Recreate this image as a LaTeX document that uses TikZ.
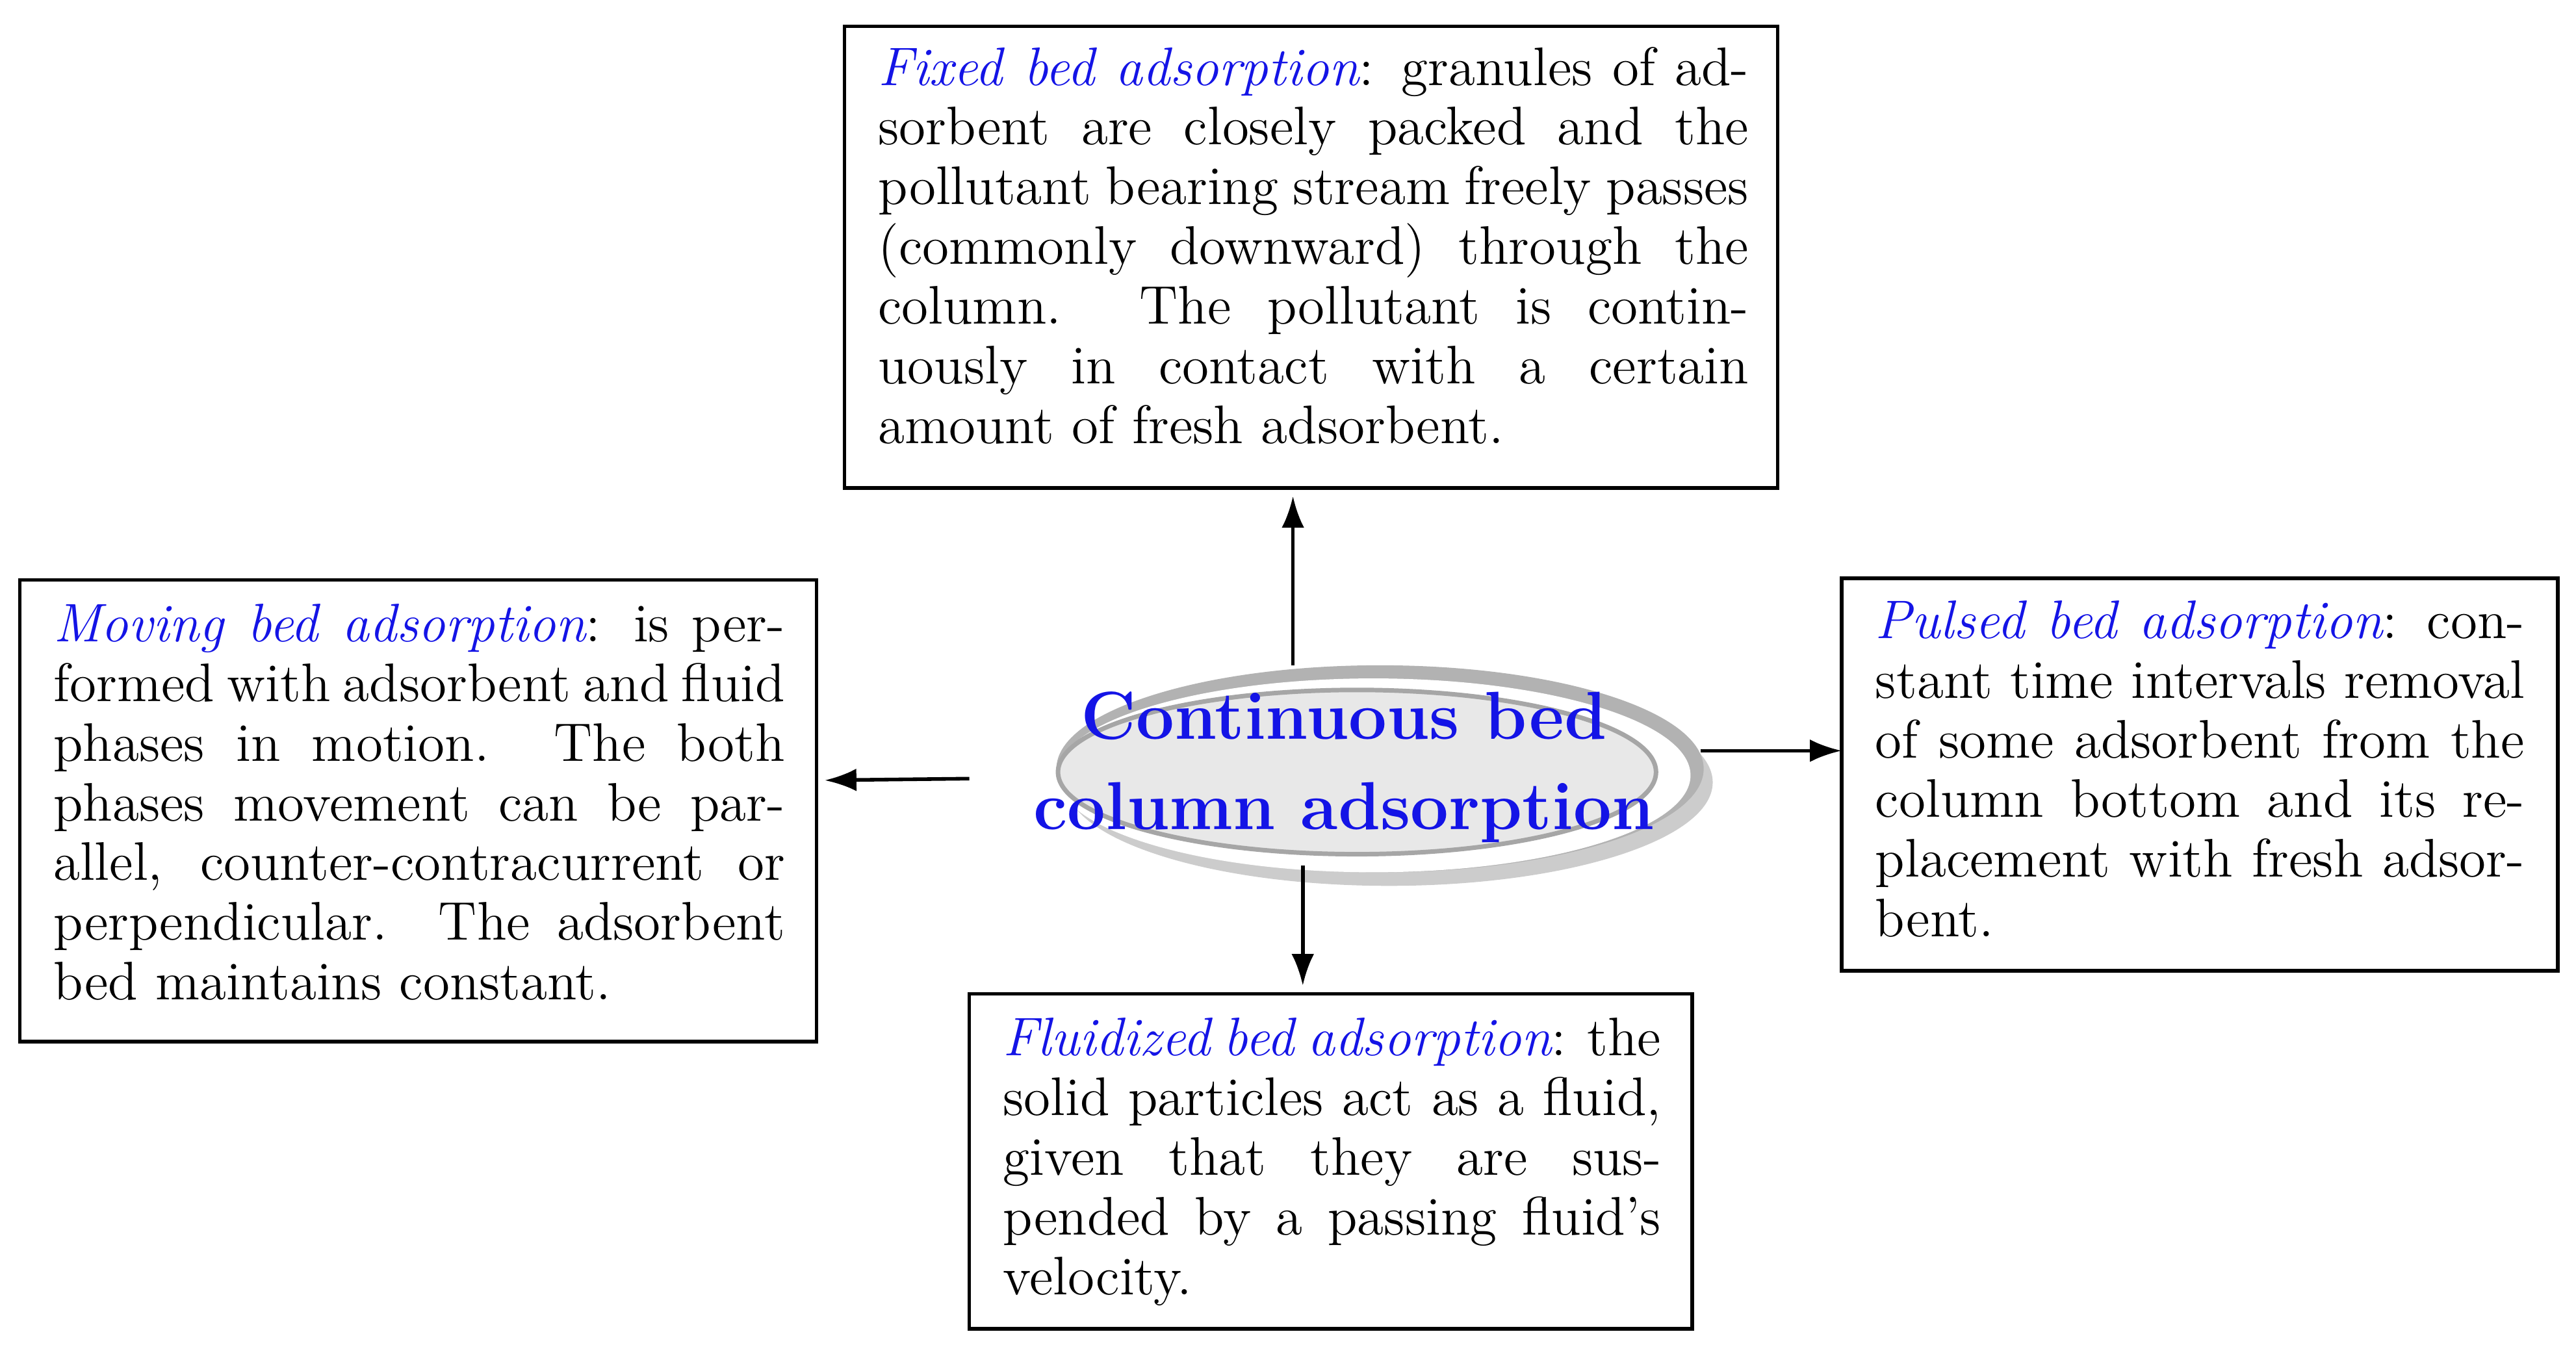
\documentclass[tikz,border=0pt]{standalone}
\usetikzlibrary{arrows.meta,shadows}
\definecolor{lblue}{RGB}{20,20,230}
\newcommand{\bedname}[1]{\textcolor{lblue}{\itshape #1}}
\begin{document}
\begin{tikzpicture}[x=0.012755cm, y=-0.012755cm]
    \tikzset{
      box/.style = {draw, line width=0.8pt, inner sep=0pt, outer sep=0pt},
      txt/.style = {align=justify, inner sep=0pt, anchor=north west,
      font=\fontsize{12}{13.2}\selectfont},
      arr/.style = {-{Latex[length=7pt,width=5pt]}, line width=0.8pt}
    }
    \useasboundingbox (0,0) rectangle (1568,820);

    % boxes
    \draw[box] (514,16) rectangle (1082,297);
    \draw[box] (12,353) rectangle (497,634);
    \draw[box] (1121,352) rectangle (1557,591);
    \draw[box] (590,605) rectangle (1030,809);

    \node[txt, text width=6.76cm] (fixed) at (534,28)
      {\bedname{Fixed bed adsorption}: granules of adsorbent are closely packed and the pollutant bearing stream freely passes (commonly downward) through the column. The pollutant is continuously in contact with a certain amount of fresh adsorbent.};
    \node[txt, text width=5.68cm] (moving) at (32,367)
      {\bedname{Moving bed adsorption}: is performed with adsorbent and fluid phases in motion. The both phases movement can be parallel, counter-contracurrent or perpendicular. The adsorbent bed maintains constant.};
    \node[txt, text width=5.04cm] (pulsed) at (1141,365)
      {\bedname{Pulsed bed adsorption}: constant time intervals removal of some adsorbent from the column bottom and its replacement with fresh adsorbent.};
    \node[txt, text width=5.11cm] (fluid) at (610,619)
      {\bedname{Fluidized bed adsorption}: the solid particles act as a fluid, given that they are suspended by a passing fluid's velocity.};

    % central ellipse
    \fill[gray!60, drop shadow={shadow xshift=2pt, shadow yshift=-3pt, opacity=0.4}]
      (840,468) ellipse [x radius=197, y radius=63];
    \fill[white] (836,472) ellipse [x radius=193, y radius=59];
    \draw[gray!70, line width=1pt, fill=gray!18] (826,470) ellipse [x radius=182, y radius=50];
    \node[align=center, text=lblue, font=\bfseries\fontsize{15}{20}\selectfont]
      (centre) at (818,467) {Continuous bed\\column adsorption};

    % arrows
    \coordinate (up0) at (787,405);   \coordinate (up1) at (787,302);
    \coordinate (lf0) at (590,474);   \coordinate (lf1) at (502,475);
    \coordinate (rt0) at (1035,457);  \coordinate (rt1) at (1121,457);
    \coordinate (dn0) at (793,527);   \coordinate (dn1) at (793,600);
    \draw[arr] (up0) -- (up1);
    \draw[arr] (lf0) -- (lf1);
    \draw[arr] (rt0) -- (rt1);
    \draw[arr] (dn0) -- (dn1);
\end{tikzpicture}
\end{document}
